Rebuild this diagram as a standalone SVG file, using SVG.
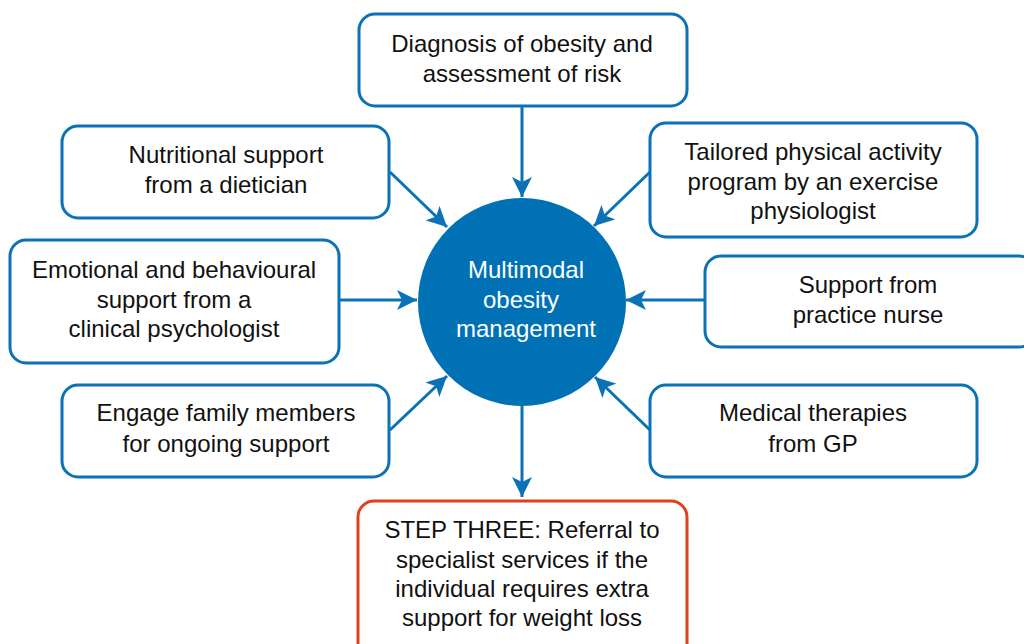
<svg xmlns="http://www.w3.org/2000/svg" width="1024" height="644" viewBox="0 0 1024 644">
<defs>
<marker id="ah" viewBox="0 0 20 20" refX="20" refY="10" markerWidth="20" markerHeight="20" markerUnits="userSpaceOnUse" orient="auto">
<path d="M0,0 L20,10 L0,20 L5,10 z" fill="#0a72b5"/>
</marker>
<style>
.box{fill:#fff;stroke:#0a72b5;stroke-width:3}
.red{fill:#fff;stroke:#e0401c;stroke-width:3}
.t{font-family:"Liberation Sans",Arial,sans-serif;font-size:24px;fill:#111;text-anchor:middle}
.w{font-family:"Liberation Sans",Arial,sans-serif;font-size:24px;fill:#fff;text-anchor:middle}
.c line{stroke:#0a72b5;stroke-width:3;marker-end:url(#ah)}
</style>
</defs>
<rect width="1024" height="644" fill="#fff"/>
<g class="c" id="connectors">
<line x1="522" y1="106" x2="522" y2="197"/>
<line x1="390" y1="172" x2="447" y2="227"/>
<line x1="650" y1="172" x2="594" y2="226"/>
<line x1="339" y1="300" x2="417" y2="300"/>
<line x1="705" y1="300" x2="626" y2="300"/>
<line x1="390" y1="430" x2="447" y2="376"/>
<line x1="650" y1="430" x2="595" y2="377"/>
<line x1="522" y1="406" x2="522" y2="497"/>
</g>
<g id="center">
<circle cx="522" cy="302" r="104" fill="#0071b5"/>
<text class="w" x="526" y="278">Multimodal</text>
<text class="w" x="521" y="308">obesity</text>
<text class="w" x="526" y="337">management</text>
</g>
<g id="diagnosis">
<rect class="box" x="359" y="14" width="328" height="92" rx="16"/>
<text class="t" x="522" y="52">Diagnosis of obesity and</text>
<text class="t" x="522" y="82">assessment of risk</text>
</g>
<g id="nutrition">
<rect class="box" x="62" y="126" width="327" height="92" rx="16"/>
<text class="t" x="226" y="163">Nutritional support</text>
<text class="t" x="226" y="193">from a dietician</text>
</g>
<g id="physical">
<rect class="box" x="650" y="123" width="327" height="114" rx="16"/>
<text class="t" x="813" y="160">Tailored physical activity</text>
<text class="t" x="813" y="190">program by an exercise</text>
<text class="t" x="813" y="219">physiologist</text>
</g>
<g id="emotional">
<rect class="box" x="10" y="240" width="329" height="123" rx="16"/>
<text class="t" x="174" y="278">Emotional and behavioural</text>
<text class="t" x="174" y="308">support from a</text>
<text class="t" x="174" y="337">clinical psychologist</text>
</g>
<g id="nurse">
<rect class="box" x="705" y="256" width="330" height="91" rx="16"/>
<text class="t" x="868" y="293">Support from</text>
<text class="t" x="868" y="323">practice nurse</text>
</g>
<g id="family">
<rect class="box" x="62" y="385" width="327" height="92" rx="16"/>
<text class="t" x="226" y="421">Engage family members</text>
<text class="t" x="226" y="452">for ongoing support</text>
</g>
<g id="medical">
<rect class="box" x="650" y="385" width="327" height="92" rx="16"/>
<text class="t" x="813" y="421">Medical therapies</text>
<text class="t" x="813" y="452">from GP</text>
</g>
<g id="step3">
<rect class="red" x="358" y="501" width="329" height="160" rx="16"/>
<text class="t" x="522" y="538">STEP THREE: Referral to</text>
<text class="t" x="522" y="568">specialist services if the</text>
<text class="t" x="522" y="597">individual requires extra</text>
<text class="t" x="522" y="626">support for weight loss</text>
</g>
</svg>
